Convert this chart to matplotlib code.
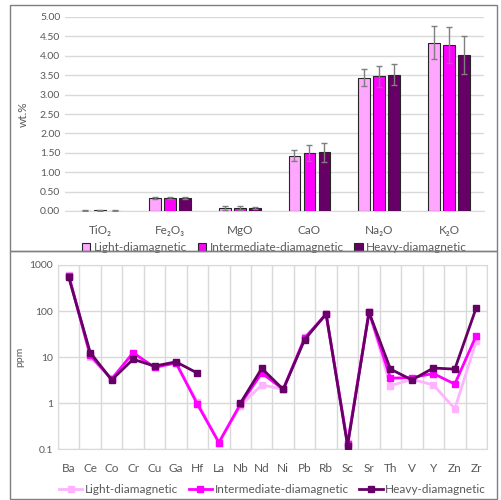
import numpy as np
import matplotlib.pyplot as plt
from matplotlib.patches import Rectangle

plt.rcParams['font.family'] = ['Lato', 'DejaVu Sans']

# major oxides (wt.%)
oxides = ['TiO₂', 'Fe₂O₃', 'MgO', 'CaO', 'Na₂O', 'K₂O']
light_ox = [0.01, 0.34, 0.08, 1.43, 3.43, 4.34]
inter_ox = [0.02, 0.33, 0.08, 1.50, 3.47, 4.28]
heavy_ox = [0.01, 0.34, 0.07, 1.51, 3.51, 4.03]
light_err = [0.005, 0.03, 0.06, 0.15, 0.22, 0.42]
inter_err = [0.01, 0.03, 0.06, 0.20, 0.27, 0.47]
heavy_err = [0.005, 0.03, 0.03, 0.24, 0.27, 0.49]

# trace elements (ppm)
elements = ['Ba', 'Ce', 'Co', 'Cr', 'Cu', 'Ga', 'Hf', 'La', 'Nb', 'Nd',
            'Ni', 'Pb', 'Rb', 'Sc', 'Sr', 'Th', 'V', 'Y', 'Zn', 'Zr']
light_tr = [620, 10, 3.5, 12, 6.0, 7.5, 1.05, 0.14, 0.88, 2.5,
            2.0, 27, 85, 0.14, 95, 2.4, 3.3, 2.5, 0.76, 22]
inter_tr = [590, 11, 3.3, 12.5, 6.0, 7.5, 0.95, 0.14, 0.95, 4.5,
            2.0, 26, 85, 0.13, 95, 3.5, 3.6, 4.4, 2.6, 29.5]
heavy_tr = [540, 12.6, 3.2, 9.0, 6.4, 7.9, 4.5, np.nan, 1.0, 5.7,
            2.0, 24, 87, 0.12, 94, 5.5, 3.2, 5.8, 5.5, 118]

series_names = ['Light-diamagnetic', 'Intermediate-diamagnetic', 'Heavy-diamagnetic']
bar_colors = ['#FFA6FF', '#FF00FF', '#660066']
line_colors = ['#FFB3FF', '#FF00FF', '#660066']
text_col = '#595959'
grid_col = '#d9d9d9'

fig = plt.figure(figsize=(5.01, 5.0), dpi=100)

# panel frames
for y0, h in [(0.498, 0.492), (0.002, 0.496)]:
    fig.patches.append(Rectangle((0.02, y0), 0.972, h, transform=fig.transFigure,
                                 fill=False, edgecolor='#7f7f7f', linewidth=1))

# ---- top: bar chart ----
ax1 = fig.add_axes([0.130, 0.578, 0.836, 0.388])
x = np.arange(len(oxides))
w = 0.17
off = 0.215
for i, (vals, errs) in enumerate([(light_ox, light_err), (inter_ox, inter_err), (heavy_ox, heavy_err)]):
    ax1.bar(x + (i - 1) * off, vals, w, color=bar_colors[i], edgecolor='#262626', linewidth=0.8,
            yerr=errs, ecolor='#7f7f7f', capsize=2.5, error_kw={'elinewidth': 1, 'capthick': 1},
            label=series_names[i], zorder=3)
ax1.set_xlim(-0.5, len(oxides) - 0.5)
ax1.set_ylim(0, 5)
ax1.set_yticks(np.arange(0, 5.01, 0.5))
ax1.set_yticklabels(['%.2f' % v for v in np.arange(0, 5.01, 0.5)])
ax1.set_xticks(x)
ax1.set_xticklabels(oxides)
ax1.yaxis.grid(True, color=grid_col, linewidth=1, zorder=0)
ax1.set_axisbelow(True)
for s in ['top', 'right', 'left']:
    ax1.spines[s].set_visible(False)
ax1.spines['bottom'].set_color(grid_col)
ax1.tick_params(length=0, colors=text_col, labelsize=7.5)
ax1.tick_params(axis='x', labelsize=8.5, pad=10)
ax1.set_ylabel('wt.%', color=text_col, fontsize=8.5, labelpad=8)
ax1.legend(loc='center', bbox_to_anchor=(0.5, -0.19), ncol=3, frameon=False,
           fontsize=8.5, handlelength=0.7, handleheight=0.7, handletextpad=0.3,
           columnspacing=0.9, labelcolor=text_col)

# ---- bottom: trace elements ----
ax2 = fig.add_axes([0.1158, 0.1014, 0.8562, 0.3686])
xe = np.arange(len(elements))
for i, vals in enumerate([light_tr, inter_tr, heavy_tr]):
    ax2.plot(xe, vals, color=line_colors[i], linewidth=2, marker='s', markersize=4,
             label=series_names[i], zorder=3 + i)
ax2.set_yscale('log')
ax2.set_ylim(0.1, 1000)
ax2.set_xlim(-0.5, len(elements) - 0.5)
ax2.set_yticks([0.1, 1, 10, 100, 1000])
ax2.set_yticklabels(['0.1', '1', '10', '100', '1000'])
ax2.yaxis.set_minor_locator(plt.NullLocator())
ax2.set_xticks(xe)
ax2.set_xticklabels(elements)
ax2.set_xticks(np.arange(-0.5, len(elements), 1), minor=True)
ax2.grid(True, which='minor', axis='x', color=grid_col, linewidth=1, zorder=0)
ax2.grid(True, which='major', axis='y', color=grid_col, linewidth=1, zorder=0)
for s in ax2.spines.values():
    s.set_color(grid_col)
ax2.tick_params(which='both', length=0, colors=text_col, labelsize=7.5)
ax2.tick_params(axis='x', labelsize=8.5, pad=10)
ax2.set_ylabel('ppm', color=text_col, fontsize=7.5, labelpad=4)
ax2.legend(loc='center', bbox_to_anchor=(0.5, -0.22), ncol=3, frameon=False,
           fontsize=8.5, handlelength=2.0, handletextpad=0.2, columnspacing=0.9,
           labelcolor=text_col)

fig.savefig('out.png', dpi=100)
